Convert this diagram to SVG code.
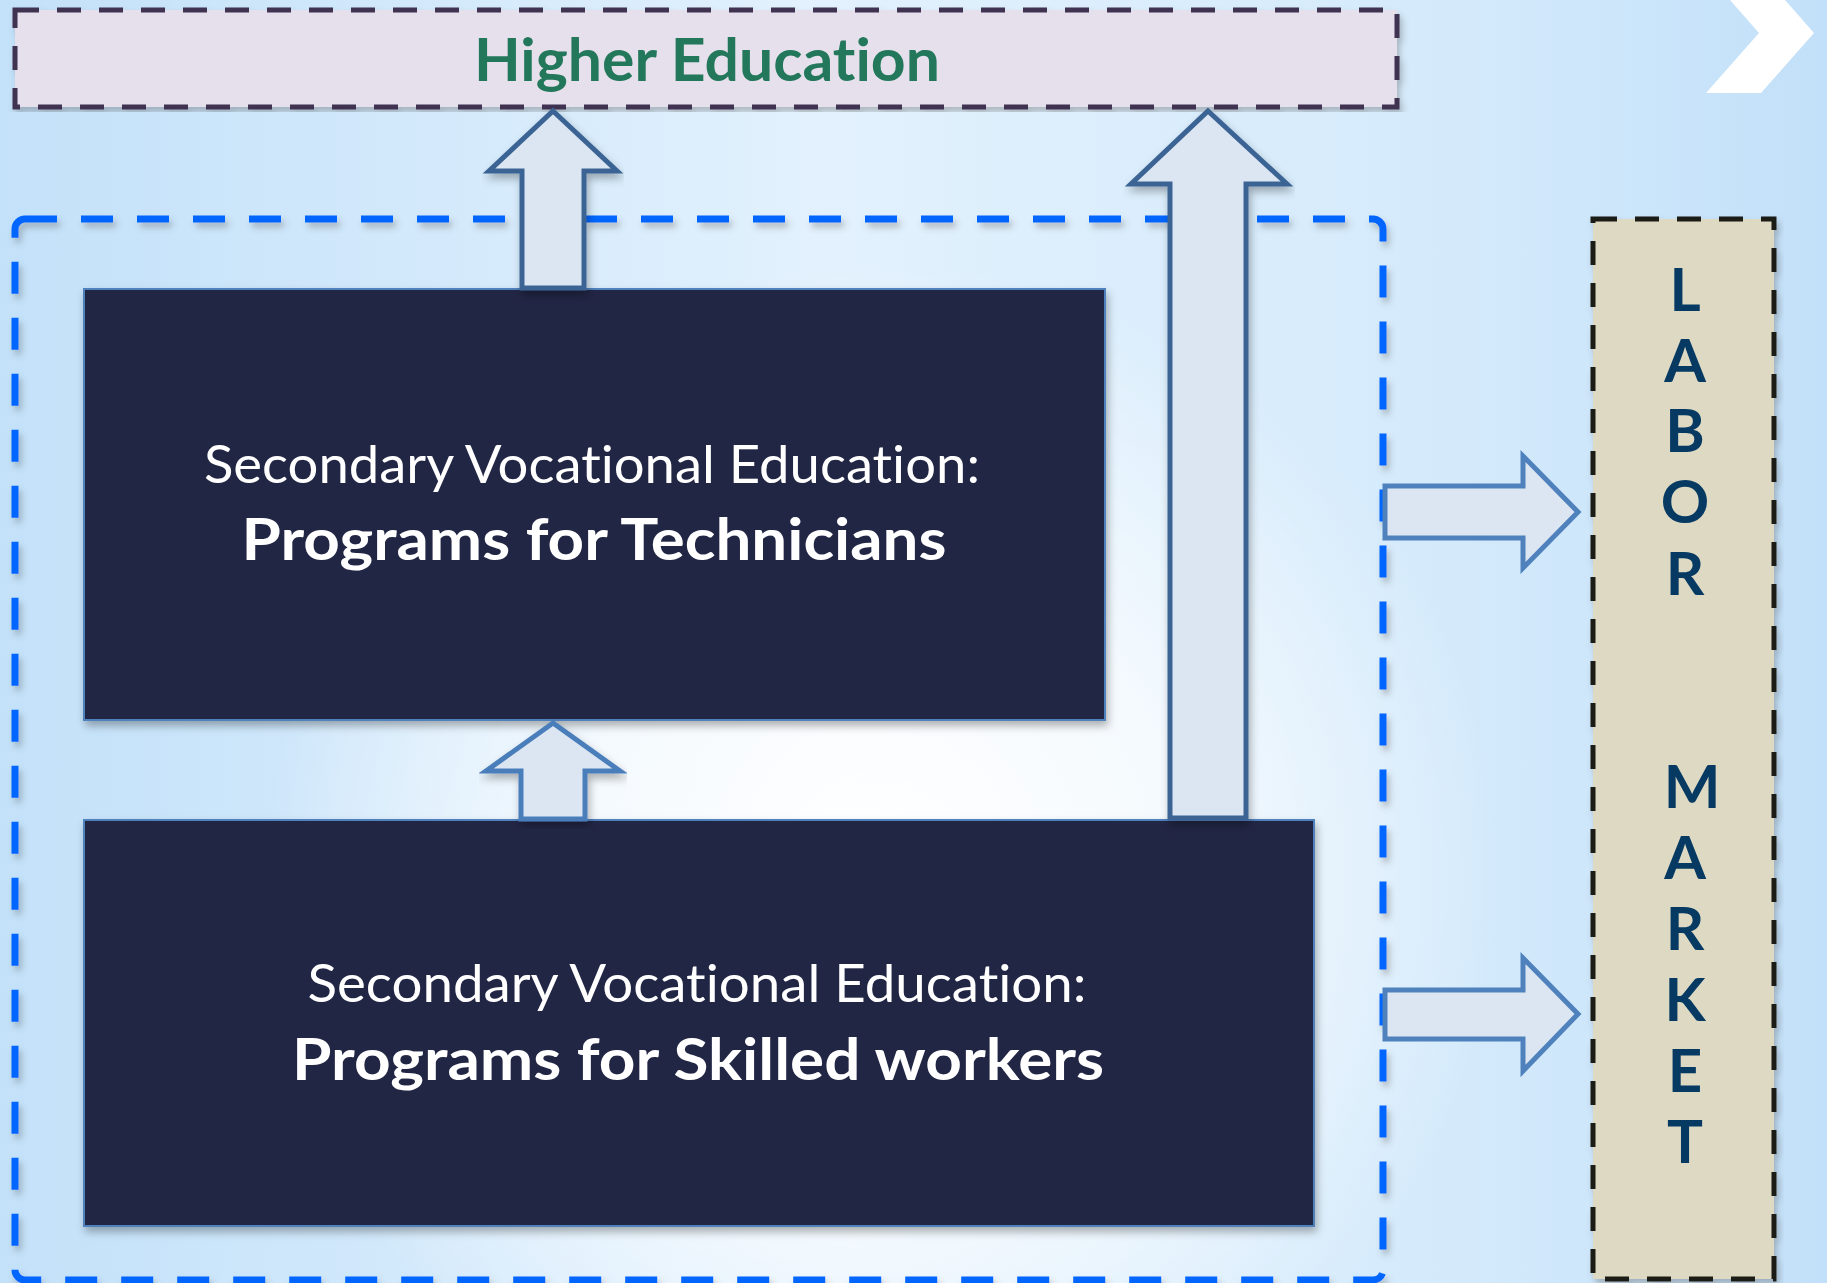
<svg xmlns="http://www.w3.org/2000/svg" width="1827" height="1283" viewBox="0 0 1827 1283">
  <defs>
    <linearGradient id="bgLin" x1="0" y1="0" x2="1" y2="0">
      <stop offset="0" stop-color="#c3e1f9"/>
      <stop offset="0.45" stop-color="#e2f1fd"/>
      <stop offset="0.8" stop-color="#d4eafb"/>
      <stop offset="1" stop-color="#c2e0f9"/>
    </linearGradient>
    <radialGradient id="glow" cx="880" cy="880" r="620" gradientUnits="userSpaceOnUse">
      <stop offset="0" stop-color="#ffffff" stop-opacity="1"/>
      <stop offset="0.5" stop-color="#ffffff" stop-opacity="0.7"/>
      <stop offset="1" stop-color="#ffffff" stop-opacity="0"/>
    </radialGradient>
    <filter id="shadow" x="-5%" y="-5%" width="110%" height="115%">
      <feDropShadow dx="2" dy="5" stdDeviation="4" flood-color="#000" flood-opacity="0.3"/>
    </filter>
    <filter id="dashShadow" x="-5%" y="-5%" width="110%" height="110%">
      <feDropShadow dx="3" dy="5" stdDeviation="3" flood-color="#555" flood-opacity="0.35"/>
    </filter>
    <style>
      text { font-variant-ligatures: none; font-feature-settings: "liga" 0, "dlig" 0; }
      .dark { fill: #222645; stroke: #4f81bd; stroke-width: 2; }
      .upArrow { fill: #dce6f2; stroke: #3a6494; stroke-width: 5; stroke-linejoin: miter; }
      .upArrowLight { fill: #dce6f2; stroke: #4a7ebb; stroke-width: 5; stroke-linejoin: miter; }
      .rightArrow { fill: #dce6f2; stroke: #4f81bd; stroke-width: 5; stroke-linejoin: miter; }
      .reg { font-family: Lato, "Open Sans", "Liberation Sans", sans-serif; fill: #ffffff; font-size: 52px; }
      .bold { font-family: Lato, "Open Sans", "Liberation Sans", sans-serif; fill: #ffffff; font-size: 57px; font-weight: bold; }
      .lab { font-family: Lato, "Open Sans", "Liberation Sans", sans-serif; fill: #063a62; font-size: 60px; font-weight: bold; }
    </style>
  </defs>

  <!-- background -->
  <rect x="0" y="0" width="1827" height="1283" fill="url(#bgLin)"/>
  <rect x="0" y="0" width="1827" height="1283" fill="url(#glow)"/>
  <polygon points="1730,0 1785,0 1814,33 1761,93 1706,93 1759,33" fill="#ffffff"/>

  <!-- container -->
  <g id="vocational-container">
    <rect x="15" y="219" width="1368" height="1061" rx="10" ry="10" fill="none" stroke="#0066ff" stroke-width="7" stroke-dasharray="32 24" filter="url(#dashShadow)"/>
  </g>

  <g id="higher-education">
    <rect x="15" y="10" width="1382" height="97" fill="#e6e0ec" stroke="#3f3151" stroke-width="5" stroke-dasharray="24 18" filter="url(#dashShadow)"/>
    <text x="707" y="81" text-anchor="middle" font-family="Lato, 'Open Sans', 'Liberation Sans', sans-serif" font-size="60" font-weight="bold" fill="#23775a" textLength="466" lengthAdjust="spacingAndGlyphs">Higher Education</text>
  </g>

  <g id="technicians">
    <rect class="dark" x="84" y="289" width="1021" height="431" filter="url(#shadow)"/>
    <text class="reg" x="592" y="483" text-anchor="middle" textLength="776" lengthAdjust="spacingAndGlyphs">Secondary Vocational Education:</text>
    <text class="bold" x="594" y="560" text-anchor="middle" textLength="705" lengthAdjust="spacingAndGlyphs">Programs for Technicians</text>
  </g>

  <g id="skilled-workers">
    <rect class="dark" x="84" y="820" width="1230" height="406" filter="url(#shadow)"/>
    <text class="reg" x="697" y="1002" text-anchor="middle" textLength="779" lengthAdjust="spacingAndGlyphs">Secondary Vocational Education:</text>
    <text class="bold" x="698" y="1080" text-anchor="middle" textLength="812" lengthAdjust="spacingAndGlyphs">Programs for Skilled workers</text>
  </g>

  <g id="labor-market">
    <rect x="1593" y="219" width="181" height="1060" fill="#ddd9c3" stroke="#1a1a12" stroke-width="5" stroke-dasharray="24 18" filter="url(#dashShadow)"/>
    <text class="lab" x="1685" y="311" text-anchor="middle">L</text>
    <text class="lab" x="1685" y="382" text-anchor="middle">A</text>
    <text class="lab" x="1685" y="452" text-anchor="middle">B</text>
    <text class="lab" x="1685" y="523" text-anchor="middle">O</text>
    <text class="lab" x="1685" y="595" text-anchor="middle">R</text>
    <text class="lab" x="1692" y="808" text-anchor="middle">M</text>
    <text class="lab" x="1685" y="879" text-anchor="middle">A</text>
    <text class="lab" x="1685" y="950" text-anchor="middle">R</text>
    <text class="lab" x="1685" y="1021" text-anchor="middle">K</text>
    <text class="lab" x="1685" y="1092" text-anchor="middle">E</text>
    <text class="lab" x="1685" y="1163" text-anchor="middle">T</text>
  </g>

  <g id="connectors">
    <!-- Technicians -> Higher Education -->
    <path class="upArrow" d="M553,111 L617,171 L584,171 L584,288 L522,288 L522,171 L489,171 Z" filter="url(#shadow)"/>
    <!-- Skilled -> Higher Education (tall) -->
    <path class="upArrow" d="M1208,111 L1287,184 L1246,184 L1246,818 L1170,818 L1170,184 L1131,184 Z" filter="url(#shadow)"/>
    <!-- Skilled -> Technicians -->
    <path class="upArrowLight" d="M553,723 L620,771 L585,771 L585,819 L521,819 L521,771 L486,771 Z" filter="url(#shadow)"/>
    <!-- to Labor market -->
    <path class="rightArrow" d="M1385,486 L1523,486 L1523,456 L1578,512 L1523,568 L1523,538 L1385,538 Z"/>
    <path class="rightArrow" d="M1385,990 L1523,990 L1523,958 L1578,1014 L1523,1071 L1523,1039 L1385,1039 Z"/>
  </g>
</svg>
